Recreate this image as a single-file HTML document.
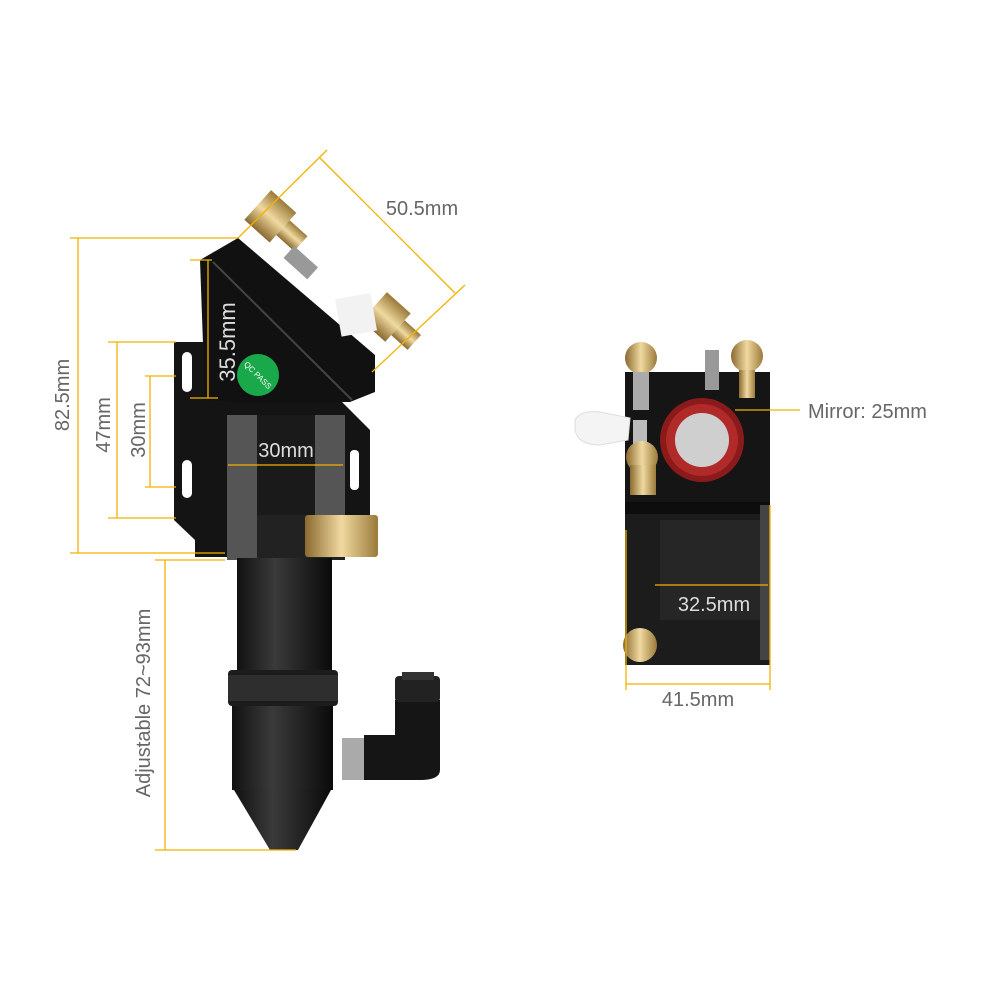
<!DOCTYPE html>
<html><head><meta charset="utf-8"><style>
html,body{margin:0;padding:0;background:#fff;}
svg{display:block;}
text{font-family:"Liberation Sans",sans-serif;font-size:20px;fill:#666;}
</style></head><body>
<svg width="1000" height="1000" viewBox="0 0 1000 1000">
<defs>
<linearGradient id="brass" x1="0" x2="1"><stop offset="0" stop-color="#8a6a30"/><stop offset="0.5" stop-color="#f0d9a0"/><stop offset="1" stop-color="#9a7a3a"/></linearGradient>
<linearGradient id="tube" x1="0" x2="1"><stop offset="0" stop-color="#111"/><stop offset="0.4" stop-color="#3a3a3a"/><stop offset="1" stop-color="#0a0a0a"/></linearGradient>
</defs>
<path d="M174 342 L240 342 L240 400 L340 400 L370 430 L370 537 L345 545 L345 557 L195 557 L195 540 L174 520 Z" fill="#141414"/>
<rect x="182" y="352" width="10" height="40" rx="5" fill="#fff"/>
<rect x="182" y="460" width="10" height="38" rx="5" fill="#fff"/>
<rect x="350" y="450" width="9" height="40" rx="4" fill="#fff"/>
<path d="M200 260 L238 238 L375 355 L375 392 L350 402 L230 402 L205 400 Z" fill="#111"/>
<path d="M213 262 L352 400" stroke="#444" stroke-width="2"/>
<g transform="rotate(-48 280 225)"><rect x="260" y="195" width="40" height="34" fill="url(#brass)"/><rect x="270" y="229" width="20" height="24" fill="url(#brass)"/></g>
<g transform="rotate(-48 395 325)"><rect x="376" y="297" width="38" height="32" fill="url(#brass)"/><rect x="385" y="329" width="20" height="22" fill="url(#brass)"/></g>
<g transform="rotate(-48 300 262)"><rect x="292" y="247" width="16" height="32" fill="#999"/></g>
<rect x="338" y="296" width="36" height="38" fill="#f2f2f2" transform="rotate(-10 355 315)"/>
<circle cx="258" cy="375" r="21" fill="#1aa94a"/>
<text x="258" y="378" font-size="8" text-anchor="middle" style="fill:#fff;font-size:8px" transform="rotate(45 258 375)">QC PASS</text>
<rect x="227" y="415" width="118" height="100" fill="#1a1a1a"/>
<rect x="227" y="415" width="30" height="100" fill="#555"/>
<rect x="315" y="415" width="30" height="100" fill="#555"/>
<rect x="227" y="515" width="118" height="45" fill="#222"/>
<rect x="227" y="515" width="30" height="45" fill="#555"/>
<rect x="305" y="515" width="73" height="42" rx="3" fill="url(#brass)"/>
<rect x="237" y="558" width="95" height="115" fill="url(#tube)"/>
<rect x="228" y="670" width="110" height="36" rx="4" fill="#1c1c1c"/>
<rect x="228" y="675" width="110" height="26" fill="#2e2e2e"/>
<rect x="232" y="706" width="101" height="84" fill="url(#tube)"/>
<path d="M234 790 L331 790 L298 850 L270 850 Z" fill="url(#tube)"/>
<rect x="342" y="738" width="22" height="42" fill="#aaa"/>
<path d="M364 735 L395 735 L395 700 L440 700 L440 770 Q440 780 420 780 L364 780 Z" fill="#151515"/>
<rect x="395" y="676" width="45" height="26" rx="4" fill="#222"/>
<rect x="402" y="672" width="32" height="8" fill="#333"/>
<g stroke="#f2b200" stroke-width="1.3" fill="none">
<line x1="70" y1="238" x2="238" y2="238"/><line x1="70" y1="553" x2="225" y2="553"/>
<line x1="78" y1="238" x2="78" y2="553"/>
<line x1="108" y1="342" x2="176" y2="342"/><line x1="108" y1="518" x2="176" y2="518"/>
<line x1="117" y1="342" x2="117" y2="518"/>
<line x1="145" y1="376" x2="176" y2="376"/><line x1="145" y1="487" x2="176" y2="487"/>
<line x1="150" y1="376" x2="150" y2="487"/>
<line x1="190" y1="260" x2="212" y2="260"/><line x1="190" y1="398" x2="218" y2="398"/>
<line x1="208" y1="260" x2="208" y2="398"/>
<line x1="228" y1="465" x2="343" y2="465"/>
<line x1="155" y1="560" x2="225" y2="560"/><line x1="155" y1="850" x2="296" y2="850"/>
<line x1="165" y1="560" x2="165" y2="850"/>
<line x1="238" y1="238" x2="327" y2="150"/><line x1="372" y1="372" x2="465" y2="285"/>
<line x1="320" y1="158" x2="455" y2="293"/>
</g>
<text x="0" y="0" transform="translate(69 395) rotate(-90)" text-anchor="middle">82.5mm</text>
<text x="0" y="0" transform="translate(110 425) rotate(-90)" text-anchor="middle">47mm</text>
<text x="0" y="0" transform="translate(145 430) rotate(-90)" text-anchor="middle">30mm</text>
<text x="0" y="0" transform="translate(235 342) rotate(-90)" text-anchor="middle" style="fill:#ddd;font-size:22px">35.5mm</text>
<text x="286" y="457" text-anchor="middle" style="fill:#ddd">30mm</text>
<text x="0" y="0" transform="translate(150 703) rotate(-90)" text-anchor="middle">Adjustable 72~93mm</text>
<text x="422" y="215" text-anchor="middle">50.5mm</text>
<rect x="625" y="372" width="145" height="130" fill="#151515"/>
<rect x="625" y="502" width="145" height="163" fill="#1c1c1c"/>
<rect x="660" y="520" width="100" height="100" fill="#262626"/>
<rect x="625" y="502" width="145" height="12" fill="#0d0d0d"/>
<rect x="760" y="505" width="10" height="155" fill="#444"/>
<circle cx="702" cy="440" r="42" fill="#8b1a1a"/>
<circle cx="702" cy="440" r="36" fill="#b02a2a"/>
<circle cx="702" cy="440" r="27" fill="#cfcfcf"/>
<path d="M575 420 Q580 410 600 412 L630 418 L628 440 L600 445 Q578 445 575 430 Z" fill="#f4f4f4" stroke="#ddd"/>
<circle cx="641" cy="358" r="16" fill="url(#brass)"/>
<rect x="633" y="372" width="16" height="38" fill="#aaa"/>
<circle cx="747" cy="356" r="16" fill="url(#brass)"/>
<rect x="739" y="370" width="16" height="28" fill="url(#brass)"/>
<rect x="705" y="350" width="14" height="40" fill="#999"/>
<rect x="633" y="420" width="14" height="24" fill="#bbb"/>
<circle cx="642" cy="457" r="16" fill="url(#brass)"/>
<rect x="630" y="465" width="26" height="30" fill="url(#brass)"/>
<circle cx="640" cy="645" r="17" fill="url(#brass)"/>
<g stroke="#f2b200" stroke-width="1.3" fill="none">
<line x1="735" y1="410" x2="800" y2="410"/>
<line x1="655" y1="585" x2="768" y2="585"/>
<line x1="626" y1="530" x2="626" y2="690"/><line x1="770" y1="505" x2="770" y2="690"/>
<line x1="626" y1="684" x2="770" y2="684"/>
</g>
<text x="808" y="418">Mirror: 25mm</text>
<text x="714" y="611" text-anchor="middle" style="fill:#ddd">32.5mm</text>
<text x="698" y="706" text-anchor="middle">41.5mm</text>
</svg>
</body></html>
